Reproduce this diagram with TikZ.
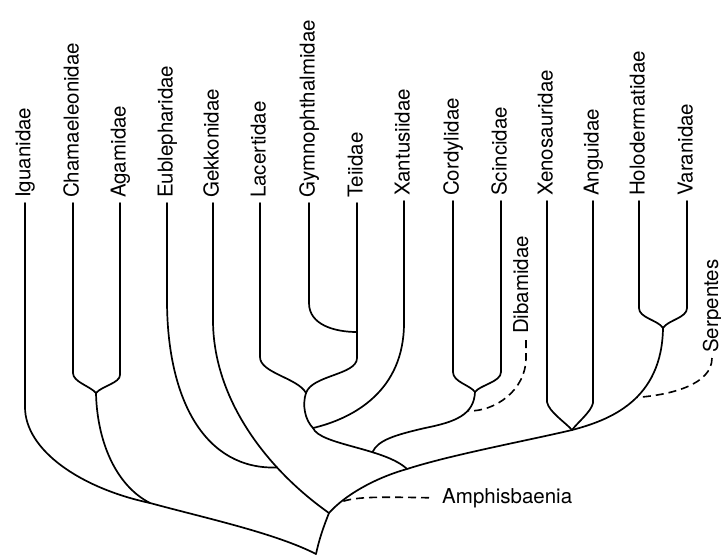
\documentclass[tikz,border=0pt]{standalone}
\usepackage{fontspec}
\setmainfont{TeX Gyre Heros}
\begin{document}
\begin{tikzpicture}[x=1pt,y=-1pt,
  br/.style={line width=1.7pt, line join=round, line cap=round},
  dsh/.style={line width=1.6pt, dash pattern=on 8pt off 5pt},
  lab/.style={rotate=90, anchor=base west, inner sep=0pt, font=\fontsize{20.5}{24}\selectfont},
  hlab/.style={anchor=base west, inner sep=0pt, font=\fontsize{20.5}{24}\selectfont}]
\useasboundingbox (0,0) rectangle (721,558);
% tips of the terminal branches
\coordinate (tIg) at (25,203);
\coordinate (tCh) at (73,203);
\coordinate (tAg) at (120,203);
\coordinate (tEu) at (167,203);
\coordinate (tGe) at (213,203);
\coordinate (tLa) at (260,203);
\coordinate (tGy) at (309,203);
\coordinate (tTe) at (357,203);
\coordinate (tXa) at (404,201);
\coordinate (tCo) at (453,201);
\coordinate (tSc) at (501,201);
\coordinate (tXe) at (547,201);
\coordinate (tAn) at (593,201);
\coordinate (tHo) at (639,201);
\coordinate (tVa) at (687,201);
% labels
\node[lab] (lIg) at (30.5,198) {Iguanidae};
\node[lab] (lCh) at (78.5,198) {Chamaeleonidae};
\node[lab] (lAg) at (125.5,198) {Agamidae};
\node[lab] (lEu) at (172.5,198) {Eublepharidae};
\node[lab] (lGe) at (218.5,198) {Gekkonidae};
\node[lab] (lLa) at (265.5,198) {Lacertidae};
\node[lab] (lGy) at (314.5,198) {Gymnophthalmidae};
\node[lab] (lTe) at (362.5,198) {Teiidae};
\node[lab] (lXa) at (409.5,196) {Xantusiidae};
\node[lab] (lCo) at (458.5,196) {Cordylidae};
\node[lab] (lSc) at (506.5,196) {Scincidae};
\node[lab] (lXe) at (552.5,196) {Xenosauridae};
\node[lab] (lAn) at (598.5,196) {Anguidae};
\node[lab] (lHo) at (644.5,196) {Holodermatidae};
\node[lab] (lVa) at (692.5,196) {Varanidae};
% Iguania
\coordinate (root) at (316,554);
\coordinate (ig) at (150,503);
\coordinate (ca) at (96,393);
\draw[br] (tIg) -- (25,407) .. controls (25,450) and (80,488) .. (ig) .. controls (205,518) and (275,533) .. (root);
\draw[br] (tCh) -- (73,373) .. controls (73,382) and (90,386) .. (ca);
\draw[br] (tAg) -- (120,375) .. controls (120,383) and (102,386) .. (ca);
\draw[br] (ca) .. controls (97,440) and (115,485) .. (ig);
% Gekkota
\coordinate (A) at (329,513);
\draw[br] (tGe) -- (213,320) .. controls (213,400) and (268,470) .. coordinate[pos=0.7] (eg) (A) .. controls (323,528) and (319,540) .. (root);
\draw[br] (tEu) -- (167,300) .. controls (167,400) and (205,470) .. (eg);
% main stem of Autarchoglossa
\coordinate (B) at (407,469);
\coordinate (G) at (572,430);
\coordinate (H) at (663,328);
\draw[br] (A) .. controls (345,495) and (375,478) .. coordinate[pos=0.2] (amj) (B) .. controls (450,455) and (530,440) .. (G) .. controls (610,420) and (662,400) .. coordinate[pos=0.55] (sej) (H);
% Anguimorpha
\draw[br] (tXe) -- (547,402) .. controls (549,412) and (565,422) .. (G);
\draw[br] (tAn) -- (593,403) .. controls (591,412) and (578,422) .. (G);
\draw[br] (tHo) -- (639,308) .. controls (639,318) and (658,320) .. (H);
\draw[br] (tVa) -- (687,308) .. controls (687,318) and (668,320) .. (H);
% Lacertoidea
\coordinate (D) at (306,393);
\coordinate (E) at (313,428);
\coordinate (gt) at (357,332);
\draw[br] (tLa) -- (260,357) .. controls (260,373) and (298,378) .. (D);
\draw[br] (tTe) -- (357,358) .. controls (357,375) and (312,375) .. (D);
\draw[br] (tGy) -- (309,303) .. controls (309,325) and (335,332) .. (gt);
\draw[br] (D) .. controls (302,405) and (305,420) .. (E) .. controls (320,445) and (385,448) .. coordinate[pos=0.65] (C) (B);
\draw[br] (tXa) -- (404,323) .. controls (404,390) and (355,418) .. (E);
% Scincoidea
\coordinate (F) at (475,392);
\draw[br] (tCo) -- (453,372) .. controls (453,382) and (470,385) .. (F);
\draw[br] (tSc) -- (501,372) .. controls (501,382) and (480,385) .. (F);
\draw[br] (C) .. controls (378,440) and (395,435) .. (425,428) .. controls (455,422) and (474,415) .. coordinate[pos=0.65] (dj) (F);
% dashed taxa
\coordinate (tDi) at (526,340);
\node[lab] (lDi) at (528,334) {Dibamidae};
\draw[dsh] (tDi) -- (526,358) .. controls (526,390) and (495,412) .. (dj);
\coordinate (tSe) at (712,358);
\node[lab] (lSe) at (718,353) {Serpentes};
\draw[dsh] (tSe) .. controls (712,385) and (670,395) .. (sej);
\node[hlab] (lAm) at (442,503) {Amphisbaenia};
\draw[dsh] ([xshift=-13pt]lAm.west) .. controls (385,497) and (355,496) .. (amj);
\end{tikzpicture}
\end{document}
